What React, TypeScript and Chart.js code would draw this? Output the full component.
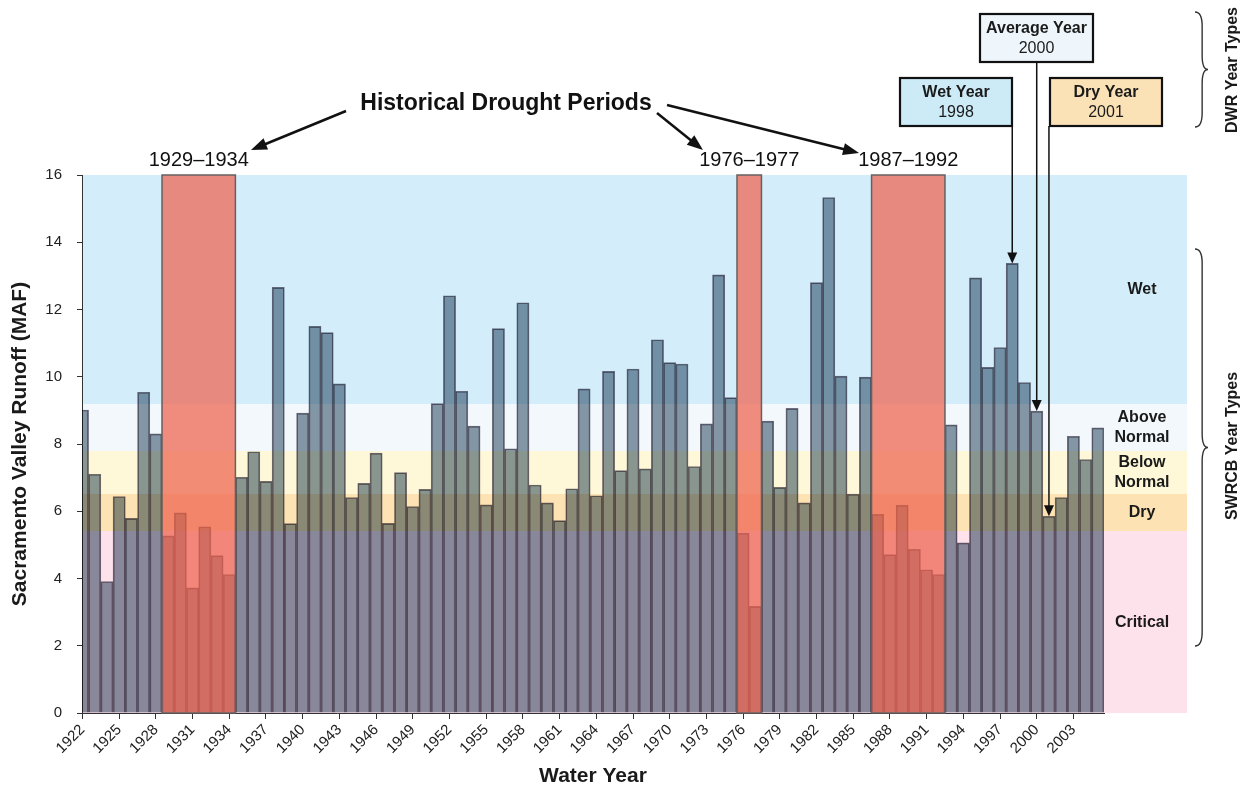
import React, { useEffect, useRef } from 'react';
import { Chart, registerables } from 'chart.js';

Chart.register(...registerables);

const FONT = "'Liberation Sans', Arial, sans-serif";

// ---------- data ----------
const years = [
  1922, 1923, 1924, 1925, 1926, 1927, 1928, 1929, 1930, 1931, 1932, 1933, 1934, 1935,
  1936, 1937, 1938, 1939, 1940, 1941, 1942, 1943, 1944, 1945, 1946, 1947, 1948, 1949,
  1950, 1951, 1952, 1953, 1954, 1955, 1956, 1957, 1958, 1959, 1960, 1961, 1962, 1963,
  1964, 1965, 1966, 1967, 1968, 1969, 1970, 1971, 1972, 1973, 1974, 1975, 1976, 1977,
  1978, 1979, 1980, 1981, 1982, 1983, 1984, 1985, 1986, 1987, 1988, 1989, 1990, 1991,
  1992, 1993, 1994, 1995, 1996, 1997, 1998, 1999, 2000, 2001, 2002, 2003, 2004, 2005,
];

const runoff = [
  9.01, 7.10, 3.91, 6.44, 5.79, 9.54, 8.30, 5.27, 5.95, 3.72, 5.54, 4.68, 4.12, 7.01,
  7.77, 6.89, 12.66, 5.63, 8.92, 11.50, 11.31, 9.79, 6.41, 6.83, 7.73, 5.64, 7.15, 6.14,
  6.65, 9.20, 12.41, 9.57, 8.53, 6.19, 11.43, 7.86, 12.20, 6.78, 6.25, 5.72, 6.67, 9.64,
  6.46, 10.16, 7.21, 10.23, 7.26, 11.10, 10.42, 10.38, 7.33, 8.60, 13.03, 9.38, 5.35, 3.17,
  8.68, 6.71, 9.06, 6.25, 12.80, 15.33, 10.02, 6.51, 9.99, 5.91, 4.71, 6.18, 4.87, 4.26,
  4.12, 8.57, 5.06, 12.94, 10.28, 10.87, 13.37, 9.83, 8.98, 5.85, 6.41, 8.23, 7.54, 8.48,
];

const tickYears = [
  1922, 1925, 1928, 1931, 1934, 1937, 1940, 1943, 1946, 1949, 1952, 1955, 1958, 1961,
  1964, 1967, 1970, 1973, 1976, 1979, 1982, 1985, 1988, 1991, 1994, 1997, 2000, 2003,
];

// SWRCB year-type bands (MAF)
const bandNames = [['Critical'], ['Dry'], ['Below', 'Normal'], ['Above', 'Normal'], ['Wet']];
const bandLower = [0, 5.4, 6.5, 7.8, 9.2];
const bandUpper = [5.4, 6.5, 7.8, 9.2, 16];
const bandColors = ['#fde1eb', '#fde3b3', '#fef8d9', '#f2f8fc', '#d3eefa'];

// Historical drought periods
const droughtStart = [1929, 1976, 1987];
const droughtEnd = [1934, 1977, 1992];
const droughtLabels = ['1929\u20131934', '1976\u20131977', '1987\u20131992'];

// DWR year-type callouts
const calloutYears = [1998, 2000, 2001];
const calloutTitles = ['Wet Year', 'Average Year', 'Dry Year'];

// ---------- drawing helpers ----------
function arrowHead(ctx: CanvasRenderingContext2D, x1: number, y1: number, x2: number, y2: number, len: number, w: number) {
  const a = Math.atan2(y2 - y1, x2 - x1);
  const bx = x2 - Math.cos(a) * len;
  const by = y2 - Math.sin(a) * len;
  const px = -Math.sin(a) * (w / 2);
  const py = Math.cos(a) * (w / 2);
  ctx.beginPath();
  ctx.moveTo(x2, y2);
  ctx.lineTo(bx + px, by + py);
  ctx.lineTo(bx - px, by - py);
  ctx.closePath();
  ctx.fill();
}

function arrow(ctx: CanvasRenderingContext2D, x1: number, y1: number, x2: number, y2: number, lw: number, len: number, w: number) {
  const a = Math.atan2(y2 - y1, x2 - x1);
  ctx.lineWidth = lw;
  ctx.beginPath();
  ctx.moveTo(x1, y1);
  ctx.lineTo(x2 - Math.cos(a) * len * 0.7, y2 - Math.sin(a) * len * 0.7);
  ctx.stroke();
  arrowHead(ctx, x1, y1, x2, y2, len, w);
}

function brace(ctx: CanvasRenderingContext2D, x: number, y1: number, y2: number, w: number) {
  const mid = (y1 + y2) / 2;
  const r = Math.min(14, (y2 - y1) / 6);
  const xm = x + w * 0.55;
  ctx.beginPath();
  ctx.moveTo(x, y1);
  ctx.quadraticCurveTo(xm, y1, xm, y1 + r);
  ctx.lineTo(xm, mid - r);
  ctx.quadraticCurveTo(xm, mid, x + w, mid);
  ctx.quadraticCurveTo(xm, mid, xm, mid + r);
  ctx.lineTo(xm, y2 - r);
  ctx.quadraticCurveTo(xm, y2, x, y2);
  ctx.stroke();
}

const BAND_EXTRA = 83;

const overlayPlugin = {
  id: 'overlay',
  beforeDraw(chart: any) {
    const { ctx, chartArea: a, scales } = chart;
    const y = scales.y;
    ctx.save();
    const right = a.right + BAND_EXTRA;
    bandLower.forEach((lo: number, i: number) => {
      const top = Math.round(y.getPixelForValue(bandUpper[i]));
      const bot = Math.round(y.getPixelForValue(lo));
      ctx.fillStyle = bandColors[i];
      ctx.fillRect(a.left, top, right - a.left, bot - top);
    });
    ctx.restore();
  },
  beforeDatasetsDraw(chart: any) {
    chart.ctx.save();
    chart.ctx.globalCompositeOperation = 'multiply';
  },
  afterDatasetsDraw(chart: any) {
    const { ctx, chartArea: a, scales } = chart;
    ctx.restore();
    const x = scales.x;
    const y = scales.y;
    ctx.save();

    // drought period boxes
    droughtStart.forEach((s: number, i: number) => {
      const l = x.getPixelForValue(s - 0.5);
      const r = x.getPixelForValue(droughtEnd[i] + 0.5);
      const t = y.getPixelForValue(16);
      const b = y.getPixelForValue(0);
      ctx.fillStyle = 'rgba(238, 98, 78, 0.72)';
      ctx.fillRect(l, t, r - l, b - t);
      ctx.strokeStyle = '#666060';
      ctx.lineWidth = 1.5;
      ctx.strokeRect(l, t, r - l, b - t);
      ctx.fillStyle = '#111';
      ctx.font = `20px ${FONT}`;
      ctx.textAlign = 'center';
      ctx.textBaseline = 'middle';
      ctx.fillText(droughtLabels[i], (l + r) / 2, a.top - 15);
    });

    // drought title + arrows
    ctx.fillStyle = '#111';
    ctx.strokeStyle = '#111';
    ctx.font = `bold 23px ${FONT}`;
    ctx.textAlign = 'center';
    ctx.textBaseline = 'middle';
    ctx.fillText('Historical Drought Periods', 506, 104);
    arrow(ctx, 346, 111, 251, 150, 2.5, 16, 12);
    arrow(ctx, 657, 113, 703, 150, 2.5, 16, 12);
    arrow(ctx, 667, 105, 859, 153, 2.5, 16, 12);

    // band labels
    const labelX = a.right + 38;
    ctx.font = `bold 16px ${FONT}`;
    ctx.fillStyle = '#1a1a1a';
    bandNames.forEach((lines: string[], i: number) => {
      const cy = y.getPixelForValue((bandLower[i] + bandUpper[i]) / 2);
      lines.forEach((t: string, j: number) => {
        ctx.fillText(t, labelX, cy + (j - (lines.length - 1) / 2) * 20);
      });
    });

    // braces + rotated labels
    ctx.strokeStyle = '#333';
    ctx.lineWidth = 1.4;
    brace(ctx, 1195, 249, 646, 13);
    brace(ctx, 1195, 12, 127, 13);
    ctx.fillStyle = '#1a1a1a';
    ctx.font = `bold 16px ${FONT}`;
    [['SWRCB Year Types', 446], ['DWR Year Types', 70]].forEach(([t, cy]: any) => {
      ctx.save();
      ctx.translate(1233, cy);
      ctx.rotate(-Math.PI / 2);
      ctx.fillText(t, 0, 0);
      ctx.restore();
    });

    // callout boxes (DWR year types)
    const boxes = [
      { l: 900, t: 78, w: 112, h: 48, fill: '#cdeaf7' },
      { l: 980, t: 14, w: 113, h: 48, fill: '#eef6fb' },
      { l: 1050, t: 78, w: 112, h: 48, fill: '#fbe2b6' },
    ];
    calloutYears.forEach((yr: number, i: number) => {
      const bx = boxes[i];
      const idx = years.indexOf(yr);
      const px = x.getPixelForValue(yr);
      const tipY = y.getPixelForValue(runoff[idx]);
      ctx.strokeStyle = '#111';
      ctx.fillStyle = '#111';
      ctx.lineWidth = 1.5;
      ctx.beginPath();
      ctx.moveTo(px, bx.t + bx.h);
      ctx.lineTo(px, tipY - 8);
      ctx.stroke();
      arrowHead(ctx, px, bx.t + bx.h, px, tipY, 11, 10);
    });
    boxes.forEach((bx: any, i: number) => {
      ctx.fillStyle = bx.fill;
      ctx.fillRect(bx.l, bx.t, bx.w, bx.h);
      ctx.strokeStyle = '#111';
      ctx.lineWidth = 2.2;
      ctx.strokeRect(bx.l, bx.t, bx.w, bx.h);
      ctx.fillStyle = '#1a1a1a';
      ctx.font = `bold 16px ${FONT}`;
      ctx.fillText(calloutTitles[i], bx.l + bx.w / 2, bx.t + 15);
      ctx.font = `16px ${FONT}`;
      ctx.fillText(String(calloutYears[i]), bx.l + bx.w / 2, bx.t + 35);
    });

    ctx.restore();
  },
};

export default function App() {
  const ref = useRef<HTMLCanvasElement | null>(null);

  useEffect(() => {
    if (!ref.current) return;
    const chart = new Chart(ref.current, {
      type: 'bar',
      data: {
        datasets: [
          {
            data: years.map((yr, i) => ({ x: yr, y: runoff[i] })),
            backgroundColor: '#8a9aa8',
            borderColor: '#76707e',
            borderWidth: 1,
            barPercentage: 1,
            categoryPercentage: 1,
            clip: 0,
          } as any,
        ],
      },
      options: {
        animation: false,
        responsive: true,
        maintainAspectRatio: false,
        layout: { padding: { top: 175, right: 140, left: 0, bottom: 0 } },
        plugins: { legend: { display: false }, tooltip: { enabled: false } },
        scales: {
          x: {
            type: 'linear',
            min: 1921.96,
            max: 2005.5,
            offset: false,
            grid: { display: true, offset: false, drawOnChartArea: false, tickLength: 6, color: '#333' },
            border: { display: true, color: '#333', width: 1 },
            afterBuildTicks: (s: any) => {
              s.ticks = tickYears.map((v) => ({ value: v }));
            },
            afterFit: (s: any) => {
              s.height = 77;
            },
            ticks: {
              autoSkip: false,
              minRotation: 45,
              maxRotation: 45,
              padding: 2,
              color: '#222',
              font: { family: FONT, size: 15 },
              callback: (v: any) => String(v),
            },
            title: {
              display: true,
              text: 'Water Year',
              color: '#1a1a1a',
              font: { family: FONT, size: 21, weight: 'bold' },
              padding: { top: 0, bottom: 1 },
            },
          } as any,
          y: {
            min: 0,
            max: 16,
            grid: { display: true, drawOnChartArea: false, tickLength: 5, color: '#333' },
            border: { display: true, color: '#333', width: 1 },
            afterFit: (s: any) => {
              s.width = 82;
            },
            ticks: {
              stepSize: 2,
              padding: 15,
              color: '#222',
              font: { family: FONT, size: 15 },
            },
            title: {
              display: true,
              text: 'Sacramento Valley Runoff (MAF)',
              color: '#1a1a1a',
              font: { family: FONT, size: 21, weight: 'bold' },
              padding: { top: 8, bottom: 0 },
            },
          } as any,
        },
      },
      plugins: [overlayPlugin as any],
    });
    return () => chart.destroy();
  }, []);

  return (
    <div style={{ position: 'fixed', left: 0, top: 0, width: 1244, height: 790, background: '#fff' }}>
      <canvas ref={ref} />
    </div>
  );
}
